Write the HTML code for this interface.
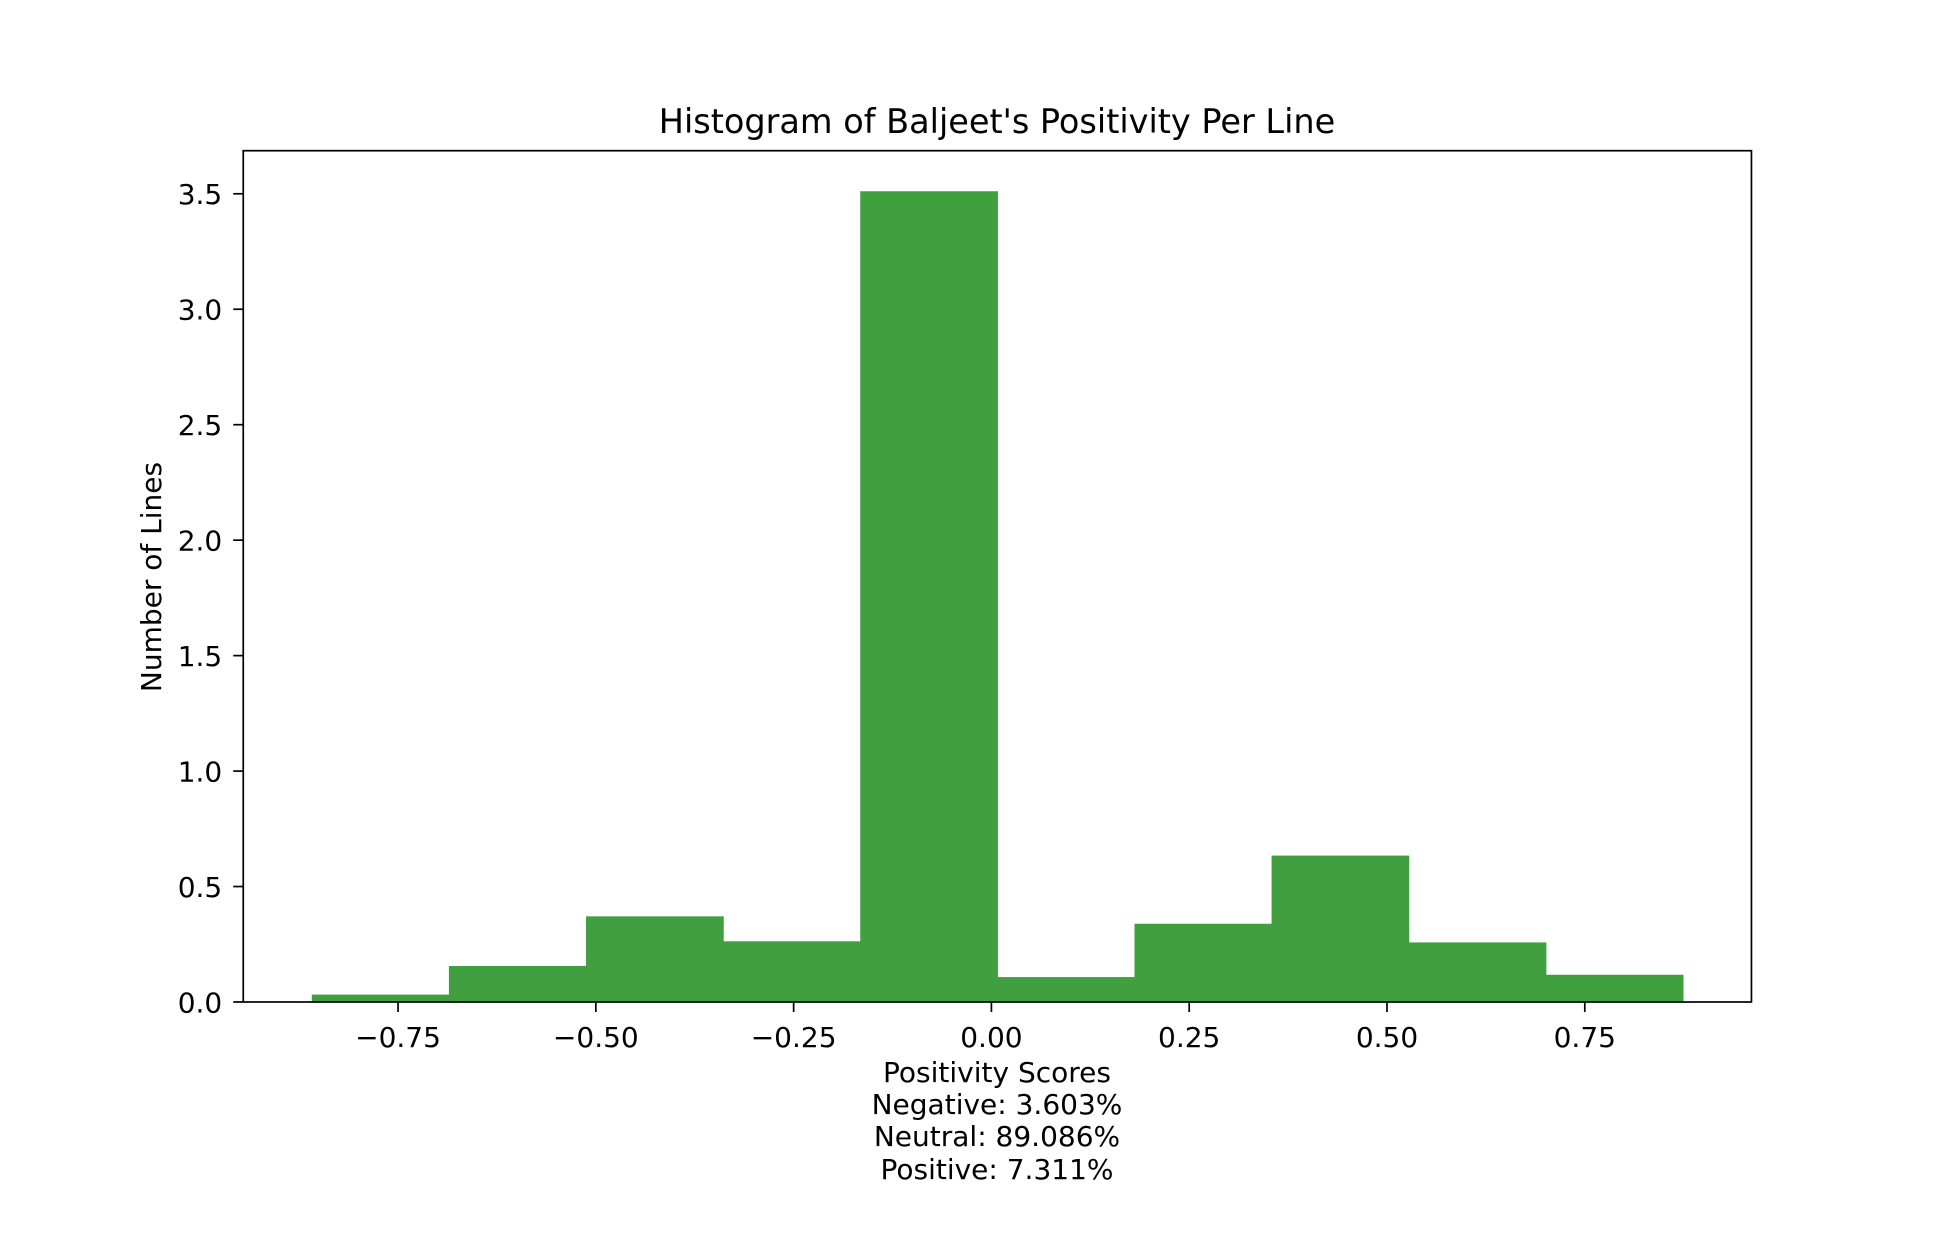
<!DOCTYPE html>
<html><head><meta charset="utf-8"><style>
html,body{margin:0;padding:0;background:#fff}
svg{display:block}
text{font-family:"DejaVu Sans","Liberation Sans",sans-serif;fill:#000}
</style></head><body>
<svg id="chart" width="1946" height="1256" viewBox="0 0 1946 1256">
<rect width="1946" height="1256" fill="#fff"/>
<g id="bars"></g>
<g id="xticks"></g>
<g id="yticks"></g>
<rect x="243.25" y="150.7" width="1508.2" height="851.3" fill="none" stroke="#000" stroke-width="1.7"/>
<text x="997" y="133" font-size="33.5" text-anchor="middle">Histogram of Baljeet's Positivity Per Line</text>
<text transform="translate(161,577) rotate(-90)" font-size="28" text-anchor="middle">Number of Lines</text>
<g font-size="28" text-anchor="middle">
<text x="997" y="1082">Positivity Scores</text>
<text x="997" y="1114">Negative: 3.603%</text>
<text x="997" y="1146">Neutral: 89.086%</text>
<text x="997" y="1179">Positive: 7.311%</text>
</g>
</svg>
<script>
const binEdges = [-0.859, -0.6857, -0.5124, -0.3391, -0.1658, 0.0075, 0.1808, 0.3541, 0.5274, 0.7007, 0.874];
const counts = [0.032, 0.156, 0.371, 0.263, 3.511, 0.108, 0.339, 0.634, 0.258, 0.118];
const xTickValues = [-0.75, -0.5, -0.25, 0, 0.25, 0.5, 0.75];
const xTickLabels = ["\u22120.75", "\u22120.50", "\u22120.25", "0.00", "0.25", "0.50", "0.75"];
const yTickValues = [0, 0.5, 1, 1.5, 2, 2.5, 3, 3.5];
const yTickLabels = ["0.0", "0.5", "1.0", "1.5", "2.0", "2.5", "3.0", "3.5"];

const NS = "http://www.w3.org/2000/svg";
const L = 243.25, R = 1751.45, T = 150.7, B = 1002;
const xmin = binEdges[0], xmax = binEdges[binEdges.length - 1];
const xr = xmax - xmin;
const x0 = xmin - 0.05 * xr, x1 = xmax + 0.05 * xr;
const ymax = Math.max(...counts) * 1.05;
const X = v => L + (v - x0) / (x1 - x0) * (R - L);
const Y = v => B - v / ymax * (B - T);

const bars = document.getElementById('bars');
counts.forEach((c, i) => {
  const r = document.createElementNS(NS, 'rect');
  const xa = X(binEdges[i]), xb = X(binEdges[i + 1]);
  r.setAttribute('x', xa);
  r.setAttribute('y', Y(c));
  r.setAttribute('width', xb - xa + 0.6);
  r.setAttribute('height', B - Y(c));
  r.setAttribute('fill', '#40a040');
  
  
  bars.appendChild(r);
});

const xg = document.getElementById('xticks');
xTickValues.forEach((v, i) => {
  const x = X(v);
  const ln = document.createElementNS(NS, 'line');
  ln.setAttribute('x1', x); ln.setAttribute('x2', x);
  ln.setAttribute('y1', B); ln.setAttribute('y2', B + 10);
  ln.setAttribute('stroke', '#000'); ln.setAttribute('stroke-width', '1.7');
  
  
  xg.appendChild(ln);
  const t = document.createElementNS(NS, 'text');
  t.setAttribute('x', x); t.setAttribute('y', B + 45);
  t.setAttribute('font-size', '28'); t.setAttribute('text-anchor', 'middle');
  t.textContent = xTickLabels[i];
  
  
  xg.appendChild(t);
});

const yg = document.getElementById('yticks');
yTickValues.forEach((v, i) => {
  const y = Y(v);
  const ln = document.createElementNS(NS, 'line');
  ln.setAttribute('x1', L - 10); ln.setAttribute('x2', L);
  ln.setAttribute('y1', y); ln.setAttribute('y2', y);
  ln.setAttribute('stroke', '#000'); ln.setAttribute('stroke-width', '1.7');
  
  
  yg.appendChild(ln);
  const t = document.createElementNS(NS, 'text');
  t.setAttribute('x', L - 21); t.setAttribute('y', y + 10.3);
  t.setAttribute('font-size', '28'); t.setAttribute('text-anchor', 'end');
  t.textContent = yTickLabels[i];
  
  
  yg.appendChild(t);
});
</script>
</body></html>
